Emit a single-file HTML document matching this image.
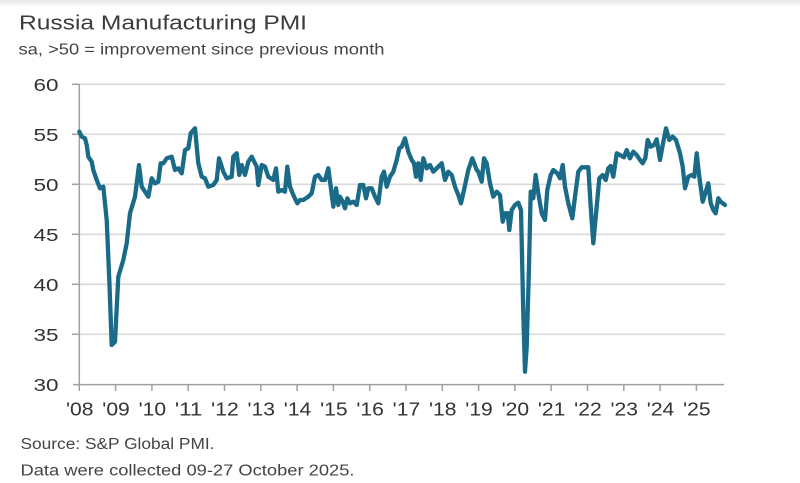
<!DOCTYPE html>
<html><head><meta charset="utf-8"><style>
html,body{margin:0;padding:0;background:#fff;}
svg{display:block;}
text{font-family:"Liberation Sans",Arial,sans-serif;}
</style></head><body>
<svg width="800" height="483" viewBox="0 0 800 483" xmlns="http://www.w3.org/2000/svg">
<defs>
<linearGradient id="tg" x1="0" y1="0" x2="0" y2="1">
<stop offset="0" stop-color="#e6e6e6"/>
<stop offset="1" stop-color="#ffffff"/>
</linearGradient>
</defs>
<rect x="0" y="0" width="800" height="483" fill="#fff"/>
<rect x="0" y="0" width="800" height="7" fill="url(#tg)"/>
<text x="19" y="29.5" font-size="20" fill="#3c3c3c" textLength="288" lengthAdjust="spacingAndGlyphs">Russia Manufacturing PMI</text>
<text x="18.5" y="54.5" font-size="16" fill="#444" textLength="366" lengthAdjust="spacingAndGlyphs">sa, &gt;50 = improvement since previous month</text>
<g stroke="#dadada" stroke-width="1.6">
<line x1="79" y1="84.3" x2="725" y2="84.3"/>
<line x1="79" y1="134.3" x2="725" y2="134.3"/>
<line x1="79" y1="184.3" x2="725" y2="184.3"/>
<line x1="79" y1="234.3" x2="725" y2="234.3"/>
<line x1="79" y1="284.3" x2="725" y2="284.3"/>
<line x1="79" y1="334.3" x2="725" y2="334.3"/>
</g>
<g stroke="#a0a0a0" stroke-width="1.5">
<line x1="79.3" y1="84" x2="79.3" y2="385"/>
<line x1="73" y1="384.6" x2="724" y2="384.6"/>
<line x1="72" y1="84.3" x2="79" y2="84.3"/>
<line x1="72" y1="134.3" x2="79" y2="134.3"/>
<line x1="72" y1="184.3" x2="79" y2="184.3"/>
<line x1="72" y1="234.3" x2="79" y2="234.3"/>
<line x1="72" y1="284.3" x2="79" y2="284.3"/>
<line x1="72" y1="334.3" x2="79" y2="334.3"/>
<line x1="79.3" y1="385" x2="79.3" y2="391"/>
<line x1="115.6" y1="385" x2="115.6" y2="391"/>
<line x1="151.9" y1="385" x2="151.9" y2="391"/>
<line x1="188.2" y1="385" x2="188.2" y2="391"/>
<line x1="224.5" y1="385" x2="224.5" y2="391"/>
<line x1="260.8" y1="385" x2="260.8" y2="391"/>
<line x1="297.1" y1="385" x2="297.1" y2="391"/>
<line x1="333.4" y1="385" x2="333.4" y2="391"/>
<line x1="369.7" y1="385" x2="369.7" y2="391"/>
<line x1="406.0" y1="385" x2="406.0" y2="391"/>
<line x1="442.3" y1="385" x2="442.3" y2="391"/>
<line x1="478.6" y1="385" x2="478.6" y2="391"/>
<line x1="514.9" y1="385" x2="514.9" y2="391"/>
<line x1="551.2" y1="385" x2="551.2" y2="391"/>
<line x1="587.5" y1="385" x2="587.5" y2="391"/>
<line x1="623.8" y1="385" x2="623.8" y2="391"/>
<line x1="660.1" y1="385" x2="660.1" y2="391"/>
<line x1="696.4" y1="385" x2="696.4" y2="391"/>
</g>
<g font-size="17.5" fill="#333" text-anchor="end">
<text x="58.5" y="91" textLength="25" lengthAdjust="spacingAndGlyphs">60</text>
<text x="58.5" y="141" textLength="25" lengthAdjust="spacingAndGlyphs">55</text>
<text x="58.5" y="191" textLength="25" lengthAdjust="spacingAndGlyphs">50</text>
<text x="58.5" y="241" textLength="25" lengthAdjust="spacingAndGlyphs">45</text>
<text x="58.5" y="291" textLength="25" lengthAdjust="spacingAndGlyphs">40</text>
<text x="58.5" y="341" textLength="25" lengthAdjust="spacingAndGlyphs">35</text>
<text x="58.5" y="391" textLength="25" lengthAdjust="spacingAndGlyphs">30</text>
</g>
<g font-size="18.5" fill="#333">
<text x="66" y="415.5" textLength="27.5" lengthAdjust="spacingAndGlyphs">'08</text>
<text x="102.3" y="415.5" textLength="27.5" lengthAdjust="spacingAndGlyphs">'09</text>
<text x="138.6" y="415.5" textLength="27.5" lengthAdjust="spacingAndGlyphs">'10</text>
<text x="174.9" y="415.5" textLength="27.5" lengthAdjust="spacingAndGlyphs">'11</text>
<text x="211.2" y="415.5" textLength="27.5" lengthAdjust="spacingAndGlyphs">'12</text>
<text x="247.5" y="415.5" textLength="27.5" lengthAdjust="spacingAndGlyphs">'13</text>
<text x="283.8" y="415.5" textLength="27.5" lengthAdjust="spacingAndGlyphs">'14</text>
<text x="320.1" y="415.5" textLength="27.5" lengthAdjust="spacingAndGlyphs">'15</text>
<text x="356.4" y="415.5" textLength="27.5" lengthAdjust="spacingAndGlyphs">'16</text>
<text x="392.7" y="415.5" textLength="27.5" lengthAdjust="spacingAndGlyphs">'17</text>
<text x="429.0" y="415.5" textLength="27.5" lengthAdjust="spacingAndGlyphs">'18</text>
<text x="465.3" y="415.5" textLength="27.5" lengthAdjust="spacingAndGlyphs">'19</text>
<text x="501.6" y="415.5" textLength="27.5" lengthAdjust="spacingAndGlyphs">'20</text>
<text x="537.9" y="415.5" textLength="27.5" lengthAdjust="spacingAndGlyphs">'21</text>
<text x="574.2" y="415.5" textLength="27.5" lengthAdjust="spacingAndGlyphs">'22</text>
<text x="610.5" y="415.5" textLength="27.5" lengthAdjust="spacingAndGlyphs">'23</text>
<text x="646.8" y="415.5" textLength="27.5" lengthAdjust="spacingAndGlyphs">'24</text>
<text x="683.1" y="415.5" textLength="27.5" lengthAdjust="spacingAndGlyphs">'25</text>
</g>
<polyline fill="none" stroke="#1a6b87" stroke-width="4.3" stroke-linejoin="round" stroke-linecap="round" points="
79.3,131.7 81.7,136.7 85,138.3 86.7,145 88.3,156.7 91.7,161.7 93.3,170 96.7,180 100,188.3 103.3,186.7 106.7,220 109.3,280 111.7,345 115,341.7 118.3,276.7 123.3,260 126.7,243.3 130,213.3 135,196.7 139,165 141.7,186.7 148.3,196.7 151.7,178.3 155,183.3 158.3,181.7 160.7,163.3 163.3,163.3 166.7,158.3 171.7,156.7 175,170 178.3,168.3 181.7,173.3 185,150 188.3,148.3 190.7,133.3 195,128.3 198.3,163.3 201.7,176.7 205,178.3 208.3,186.7 213.3,185 216.7,180 219,158.3 223.3,171.7 226.7,178.3 231.7,176.7 233.3,156.7 236.7,153.3 239.3,175 241.7,165 245,175 248.3,161.7 251.7,156.7 256.7,166.7 258.3,185 261.7,165 265,166.7 268.3,176.7 273.3,180 276,168.3 278.3,191.7
281.7,190 285,191.7 287.3,166.7 290,186.7 293.3,195 297.3,203.3 300,200 303.3,200 308.3,196.7 311.7,193.3 315,176.7 318.3,175 321.7,180 325,180 328.3,168.3 330.7,186.7 333.3,206.7 336,188.3 338.3,205 340,196.7 342.7,201.7 345,208.3 347.3,198.3 350,203.3 353.3,201.7 356.7,205 360,185 363.3,185 366,198.3 368.3,188.3 371.7,188.3 375,196.7 378.3,203.3 381.7,176.7 384,171.7 386.7,186.7 390,176.7 393.3,171.7 396.7,160 399.3,148.3 401.7,146.7 405,138.3 408.3,151.7 411.7,160 414,163.3 416,176.7 418.3,163.3 420.7,180 423.3,158.3 426.7,168.3 430,165 433.3,171.7 436.7,168.3 441.7,163.3 445,180 448.3,171.7 451.7,175 455,186.7 458.3,195 461,203.3 464,190 468.3,170 472.3,158.3 476.7,170
478.3,171.7 481.7,181.7 484,158.3 486.7,163.3 490,183.3 493.3,196.7 496.7,191.7 500,195 502.7,221.7 505,213.3 507.7,213.3 509.3,230 511.7,210 515,205 518.3,202.7 521,210 523.3,313.3 525,371.7 526.7,346.7 529,266.7 530.7,191.7 533.3,198.3 535.7,175 538.3,193.3 541.7,213.3 545,220 547.3,190 550.7,175 553.3,170 557.3,173.3 560,178.3 562.7,165 565,186.7 568.3,203.3 572.3,218.3 575,196.7 578.3,171.7 581.7,167.3 585,167.3 588.3,167.3 590.7,206.7 593.3,243.3 596.7,206.7 599.3,178.3 602.7,175 605.7,180 608.3,168.3 610.7,166 613.3,176.7 616.7,153.3 620,155 624,157.3 626.7,150 630,158.3 633.3,151.7 636.7,155 640,160 642.7,163.3 645.3,158.3 647.7,140 650.7,146.7 654,145 656.7,139.3 660,160 662.7,145 666,128.3 669.3,140 672.7,136.7 676,140 680,153.3 682.7,166.7 685,188.3 688.3,176.7 691.7,175 694.3,176.7 696.7,153.3 699.3,176.7 702.7,201.7 705.7,191.7 708.3,183.3 710.7,203.3 713.3,210 715.7,213.3 718.3,198.3 720.7,201.7 725,205"/>
<text x="20.5" y="449" font-size="15.5" fill="#444" textLength="194" lengthAdjust="spacingAndGlyphs">Source: S&amp;P Global PMI.</text>
<text x="20.5" y="475.5" font-size="15.5" fill="#444" textLength="334" lengthAdjust="spacingAndGlyphs">Data were collected 09-27 October 2025.</text>
</svg>
</body></html>
